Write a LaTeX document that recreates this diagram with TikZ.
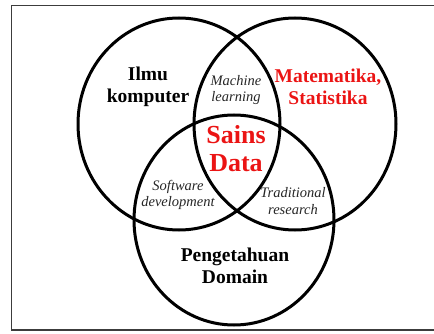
\documentclass[tikz,border=0pt]{standalone}
\usepackage{fontspec}
\setmainfont{Liberation Serif}
\usepackage{tikz}
\usetikzlibrary{positioning}
\usepackage{xcolor}
\definecolor{setred}{RGB}{235, 20, 20}
\definecolor{framegray}{RGB}{60, 60, 60}

\tikzset{
    setline/.style={line width=3pt, black},
    setlabel/.style={font=\fontsize{19.5}{22}\selectfont\bfseries, align=center, inner sep=0pt},
    areapart/.style={font=\fontsize{14.5}{16.5}\selectfont\itshape, align=center, inner sep=0pt, text=black!85},
}

\begin{document}
\begin{tikzpicture}[x=1pt,y=-1pt]
    \useasboundingbox (0,0) rectangle (434,334);
    % Frame
    \draw[framegray, line width=1.8pt] (11.5,5.5) rectangle (445,330);

    % Three sets
    \draw[setline] (179,124) ellipse [x radius=101, y radius=106];
    \draw[setline] (295,124) ellipse [x radius=101, y radius=106];
    \draw[setline] (234,220) ellipse [x radius=100, y radius=105];

    % Set names
    \node[setlabel] (ilkom) at (148,87) {Ilmu\\komputer};
    \node[setlabel, text=setred] (mtk) at (328,87) {Matematika,\\Statistika};
    \node[setlabel] (domain) at (235,266) {Pengetahuan\\Domain};

    % Overlaps
    \node[areapart] (ml) at (236,90) {Machine\\learning};
    \node[areapart] (sd) at (178,195) {Software\\development};
    \node[areapart] (tr) at (293,201) {Traditional\\research};
    \node[setlabel, text=setred, font=\fontsize{26}{28}\selectfont\bfseries] (sains) at (236,149) {Sains\\Data};
\end{tikzpicture}
\end{document}
